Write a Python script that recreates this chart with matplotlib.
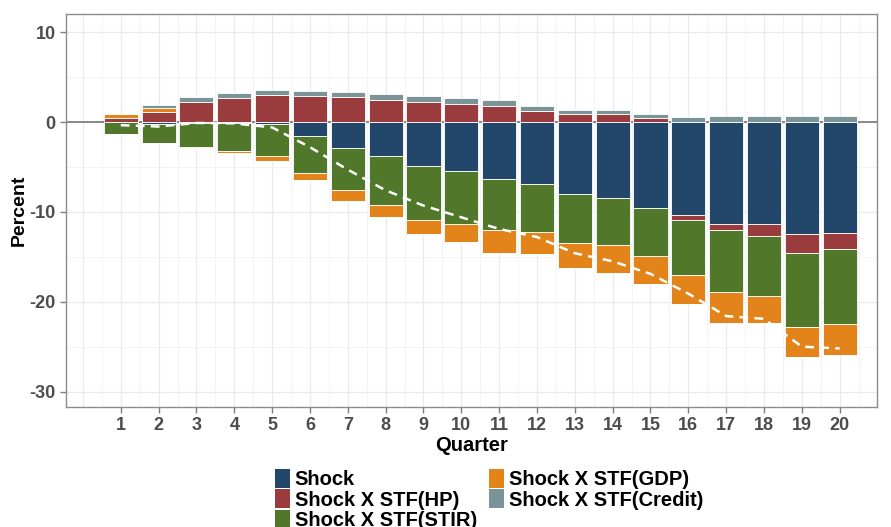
import numpy as np
import matplotlib.pyplot as plt
from matplotlib.patches import Patch

plt.rcParams["font.family"] = ["Liberation Sans", "DejaVu Sans"]
plt.rcParams["axes.unicode_minus"] = False

quarters = list(range(1, 21))
series = ["Shock", "Shock X STF(HP)", "Shock X STF(STIR)", "Shock X STF(GDP)", "Shock X STF(Credit)"]
colors = ["#22476B", "#9A3C3D", "#50772A", "#E2841A", "#7B9497"]

shock = [-0.05, -0.2, -0.1, -0.1, -0.2, -1.55, -2.85, -3.75, -4.85, -5.45,
         -6.3, -6.9, -8.0, -8.5, -9.55, -10.4, -11.3, -11.3, -12.5, -12.3]
hp = [0.5, 1.1, 2.2, 2.7, 3.0, 2.9, 2.75, 2.45, 2.25, 2.0,
      1.75, 1.2, 0.85, 0.9, 0.5, -0.45, -0.75, -1.4, -2.1, -1.8]
stir = [-1.3, -2.1, -2.7, -3.1, -3.6, -4.15, -4.75, -5.5, -6.1, -5.95,
        -5.75, -5.3, -5.5, -5.2, -5.4, -6.2, -6.9, -6.7, -8.25, -8.35]
gdp = [0.4, 0.5, -0.05, -0.2, -0.5, -0.8, -1.2, -1.3, -1.5, -2.0,
       -2.5, -2.5, -2.7, -3.1, -3.1, -3.15, -3.45, -3.0, -3.25, -3.45]
credit = [0.05, 0.25, 0.6, 0.55, 0.55, 0.55, 0.55, 0.65, 0.65, 0.7,
          0.65, 0.6, 0.5, 0.45, 0.45, 0.6, 0.7, 0.7, 0.7, 0.65]
total = [-0.35, -0.5, -0.1, -0.15, -0.6, -2.8, -5.3, -7.6, -9.3, -10.6,
         -11.9, -12.8, -14.6, -15.5, -16.9, -19.1, -21.6, -21.9, -25.0, -25.2]

fig = plt.figure(figsize=(8.91, 5.27), dpi=100)
ax = fig.add_axes([0.074, 0.228, 0.91, 0.745])

# grid like ggplot theme_bw
for yv in np.arange(-35, 15, 5):
    ax.axhline(yv, color="#EBEBEB" if yv % 10 == 0 else "#F3F3F3", lw=1.0 if yv % 10 == 0 else 0.6, zorder=0)
for xv in np.arange(0, 21, 0.5):
    ax.axvline(xv, color="#EBEBEB" if xv % 1 == 0 else "#F3F3F3", lw=1.0 if xv % 1 == 0 else 0.6, zorder=0)

ax.axhline(0, color="#7F7F7F", lw=1.3, zorder=1)

x = np.array(quarters)
pos_base = np.zeros(len(x))
neg_base = np.zeros(len(x))
for vals, col in zip([shock, hp, stir, gdp, credit], colors):
    v = np.array(vals)
    pos = np.where(v > 0, v, 0)
    neg = np.where(v < 0, v, 0)
    ax.bar(x, pos, bottom=pos_base, width=0.9, color=col, edgecolor="white", linewidth=0.6, zorder=2)
    ax.bar(x, neg, bottom=neg_base, width=0.9, color=col, edgecolor="white", linewidth=0.6, zorder=2)
    pos_base += pos
    neg_base += neg

ax.plot(x, total, color="white", lw=1.8, dashes=(3.5, 2.5), zorder=3)

ax.set_xlim(-0.45, 20.98)
ax.set_ylim(-31.7, 12)
ax.set_xticks(quarters)
ax.set_yticks([10, 0, -10, -20, -30])
ax.tick_params(axis="both", colors="#7F7F7F", length=4, width=1, labelsize=13, labelcolor="#4D4D4D")
for lab in ax.get_xticklabels() + ax.get_yticklabels():
    lab.set_fontweight("bold")
for sp in ax.spines.values():
    sp.set_color("#8C8C8C")
    sp.set_linewidth(1.0)

ax.set_xlabel("Quarter", fontsize=14.5, fontweight="bold", labelpad=1)
ax.set_ylabel("Percent", fontsize=14, fontweight="bold", labelpad=1)

handles = [Patch(facecolor=c, edgecolor="none") for c in colors]
fig.legend(handles, series, loc="center", bbox_to_anchor=(0.549, 0.052), ncol=2,
           frameon=False, handlelength=0.75, handleheight=1.05, handletextpad=0.25,
           labelspacing=0.0, columnspacing=0.6, borderpad=0,
           prop={"size": 14.5, "weight": "bold"})

fig.savefig("out.png", dpi=100)
